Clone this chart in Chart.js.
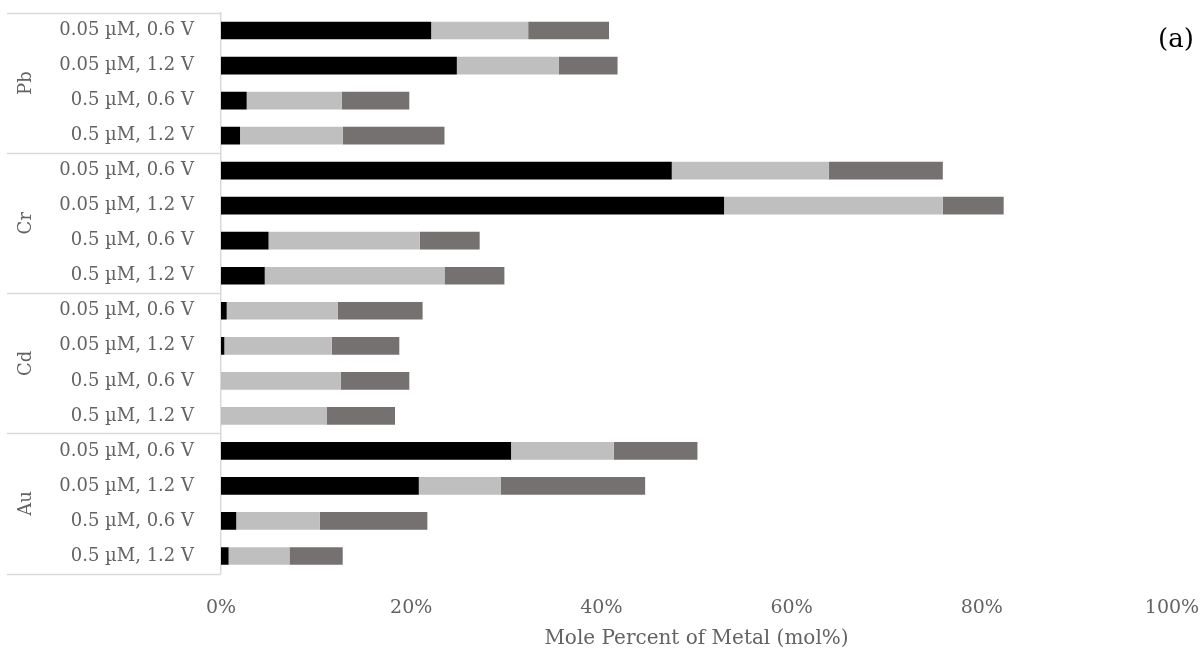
<!DOCTYPE html>
<html>
<head>
<meta charset="utf-8">
<script src="https://cdn.jsdelivr.net/npm/chart.js@4/dist/chart.umd.min.js"></script>
<style>
  html, body { margin: 0; padding: 0; background: #ffffff; }
  #wrap { width: 1201px; height: 652px; position: relative; }
</style>
</head>
<body>
<div id="wrap"><canvas id="c" width="1201" height="652"></canvas></div>
<script>
// Metals, each measured at four concentration / potential conditions
const metals = ['Pb', 'Cr', 'Cd', 'Au'];
const conditions = ['0.05 \u00b5M, 0.6 V', '0.05 \u00b5M, 1.2 V', '0.5 \u00b5M, 0.6 V', '0.5 \u00b5M, 1.2 V'];

// Row labels, top to bottom
const categories = [
  '0.05 \u00b5M, 0.6 V', '0.05 \u00b5M, 1.2 V', '0.5 \u00b5M, 0.6 V', '0.5 \u00b5M, 1.2 V',
  '0.05 \u00b5M, 0.6 V', '0.05 \u00b5M, 1.2 V', '0.5 \u00b5M, 0.6 V', '0.5 \u00b5M, 1.2 V',
  '0.05 \u00b5M, 0.6 V', '0.05 \u00b5M, 1.2 V', '0.5 \u00b5M, 0.6 V', '0.5 \u00b5M, 1.2 V',
  '0.05 \u00b5M, 0.6 V', '0.05 \u00b5M, 1.2 V', '0.5 \u00b5M, 0.6 V', '0.5 \u00b5M, 1.2 V'
];

// Mole percent of each stacked component (mol%), same row order
const componentA = [22.1, 24.8, 2.7, 2.0,  47.4, 52.9, 5.0, 4.6,  0.6, 0.35, 0.0, 0.0,  30.5, 20.8, 1.6, 0.8];
const componentB = [10.2, 10.7, 10.0, 10.8, 16.5, 23.0, 15.9, 18.9, 11.7, 11.3, 12.6, 11.1, 10.8, 8.6, 8.8, 6.4];
const componentC = [8.5, 6.2, 7.1, 10.7,  12.0, 6.4, 6.3, 6.3,  8.9, 7.1, 7.2, 7.2,  8.8, 15.2, 11.3, 5.6];

const xTicks = [0, 20, 40, 60, 80, 100];

const textColor = '#636363';
const lineColor = '#d9d9d9';
const fontFamily = '"DejaVu Serif", "Liberation Serif", serif';

// Draws the metal group column with its dividers, and the panel tag
const groupAxisPlugin = {
  id: 'groupAxis',
  afterDraw(chart) {
    const ctx = chart.ctx;
    const y = chart.scales.y;
    const area = chart.chartArea;
    const step = (y.getPixelForValue(1) - y.getPixelForValue(0));
    const per = conditions.length;
    ctx.save();
    ctx.strokeStyle = lineColor;
    ctx.lineWidth = 1.5;
    // dividers
    for (let g = 0; g <= metals.length; g++) {
      const py = Math.round(y.getPixelForValue(g * per) - step / 2) + 0.5;
      ctx.beginPath();
      ctx.moveTo(7, py);
      ctx.lineTo(area.left, py);
      ctx.stroke();
    }
    // group names, rotated
    ctx.fillStyle = textColor;
    ctx.font = '18px ' + fontFamily;
    ctx.textAlign = 'center';
    ctx.textBaseline = 'middle';
    metals.forEach((m, g) => {
      const top = y.getPixelForValue(g * per) - step / 2;
      const bottom = y.getPixelForValue(g * per + per - 1) + step / 2;
      ctx.save();
      ctx.translate(26, (top + bottom) / 2);
      ctx.rotate(-Math.PI / 2);
      ctx.fillText(m, 0, 0);
      ctx.restore();
    });
    // panel tag
    ctx.fillStyle = '#000000';
    ctx.font = '26px "DejaVu Serif", serif';
    ctx.textAlign = 'center';
    ctx.fillText('(a)', 1176, 40);
    ctx.restore();
  }
};

new Chart(document.getElementById('c'), {
  type: 'bar',
  data: {
    labels: categories,
    datasets: [
      { label: 'Component A', data: componentA, backgroundColor: '#000000' },
      { label: 'Component B', data: componentB, backgroundColor: '#bfbfbf' },
      { label: 'Component C', data: componentC, backgroundColor: '#767171' }
    ]
  },
  options: {
    indexAxis: 'y',
    responsive: false,
    animation: false,
    devicePixelRatio: 1,
    layout: { padding: { top: 13, left: 0, right: 29, bottom: 0 } },
    datasets: { bar: { barPercentage: 0.505, categoryPercentage: 1.0, borderWidth: 0 } },
    plugins: { legend: { display: false }, tooltip: { enabled: false } },
    scales: {
      x: {
        stacked: true,
        min: 0,
        max: 100,
        afterBuildTicks(scale) { scale.ticks = xTicks.map(v => ({ value: v })); },
        afterFit(scale) { scale.height = 78.5; scale.paddingLeft = 0; scale.paddingRight = 0; },
        grid: { display: false, drawTicks: false },
        border: { display: false },
        ticks: {
          color: textColor,
          font: { family: fontFamily, size: 19 },
          padding: 23,
          callback: v => v + '%'
        },
        title: {
          display: true,
          text: 'Mole Percent of Metal (mol%)',
          color: textColor,
          font: { family: fontFamily, size: 20 },
          padding: { top: 0, bottom: 1 }
        }
      },
      y: {
        stacked: true,
        afterFit(scale) { scale.width = 221; scale.paddingTop = 0; scale.paddingBottom = 0; },
        grid: { display: false, drawTicks: false },
        border: { display: true, color: lineColor, width: 1.5 },
        ticks: {
          color: textColor,
          font: { family: fontFamily, size: 18 },
          padding: 27,
          autoSkip: false
        }
      }
    }
  },
  plugins: [groupAxisPlugin]
});
</script>
</body>
</html>
